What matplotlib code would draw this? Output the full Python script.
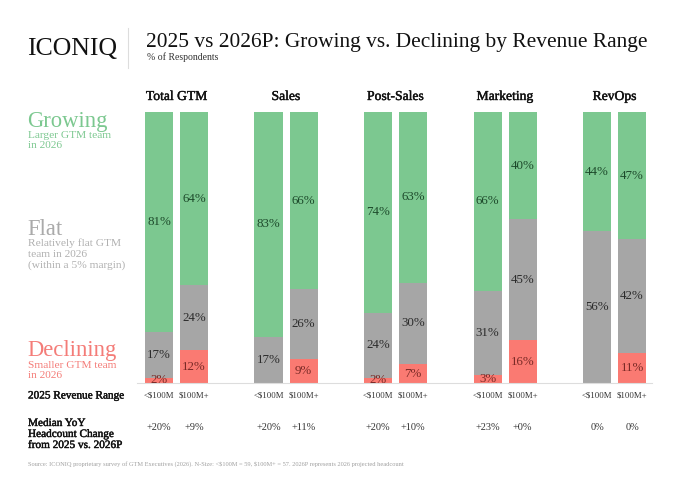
import matplotlib.pyplot as plt
from matplotlib.lines import Line2D
import matplotlib.patheffects as pe
import numpy as np

plt.rcParams['font.family'] = ['Liberation Serif', 'DejaVu Serif']

# Data, one row per function: [<$100M, $100M+]
functions = ['Total GTM', 'Sales', 'Post-Sales', 'Marketing', 'RevOps']
ranges = ['<$100M', '$100M+']
growing = np.array([[81, 64], [83, 66], [74, 63], [66, 40], [44, 47]])
flat = np.array([[17, 24], [17, 26], [24, 30], [31, 45], [56, 42]])
declining = np.array([[2, 12], [0, 9], [2, 7], [3, 16], [0, 11]])
median_change = [['+20%', '+9%'], ['+20%', '+11%'], ['+20%', '+10%'],
                 ['+23%', '+0%'], ['0%', '0%']]

green = '#7CC890'
grey = '#A6A6A6'
red = '#FA7A72'
ink = '#111111'

W, H = 680, 493
fig = plt.figure(figsize=(6.8, 4.93), dpi=100)

# fake a semibold weight: regular glyphs with a thin outline
semi = [pe.withStroke(linewidth=0.3, foreground=ink)]


def fx(px):
    return px / W


def fy(py):
    return 1 - py / H


def lines(x0, baselines, texts, **kw):
    for b, t in zip(baselines, texts):
        fig.text(fx(x0), fy(b), t, va='baseline', **kw)


# axes placed so bars land where they sit in the reference
ax_top, ax_bot = 112, 383
ax = fig.add_axes([fx(137), fy(ax_bot), fx(652) - fx(137), (ax_bot - ax_top) / H])

n = len(functions)
offsets = np.array([-0.16, 0.16])
x = (np.arange(n)[:, None] + offsets[None, :]).ravel()
tot = (growing + flat + declining).ravel()
g = growing.ravel() / tot * 100
f = flat.ravel() / tot * 100
d = declining.ravel() / tot * 100

bw = 0.256
b_red = ax.bar(x, d, bw, color=red)
b_grey = ax.bar(x, f, bw, bottom=d, color=grey)
b_green = ax.bar(x, g, bw, bottom=d + f, color=green)


def labs(vals):
    return ['' if v == 0 else f'{v}%' for v in vals]


ax.bar_label(b_red, labels=labs(declining.ravel()), label_type='center',
             fontsize=9.3, color='#7a2a26')
ax.bar_label(b_grey, labels=labs(flat.ravel()), label_type='center',
             fontsize=9.3, color='#2b2b2b')
ax.bar_label(b_green, labels=labs(growing.ravel()), label_type='center',
             fontsize=9.3, color='#1d4a2b')

ax.set_xlim(-0.361, 4.342)
ax.set_ylim(0, 100)
ax.set_yticks([])
ax.set_xticks(x, ranges * n, fontsize=6.3, color='#333333')
ax.tick_params(axis='x', length=0, pad=6)
for s in ['top', 'left', 'right']:
    ax.spines[s].set_visible(False)
ax.spines['bottom'].set_color('#dddddd')
ax.spines['bottom'].set_linewidth(0.8)

hgt = ax_bot - ax_top
# column headers
for i, name in enumerate(functions):
    ax.text(i, (ax_bot - 100) / hgt, name, transform=ax.get_xaxis_transform(),
            ha='center', va='baseline', fontsize=9.8, color=ink, path_effects=semi)

# median change row
for xi, m in zip(x, np.ravel(median_change)):
    ax.text(xi, (ax_bot - 427) / hgt, m, transform=ax.get_xaxis_transform(),
            ha='center', va='center', fontsize=7.5, color='#333333')

# header
fig.text(fx(27), fy(55), 'ICONIQ', fontsize=18.5, va='baseline', color=ink)
fig.add_artist(Line2D([fx(128), fx(128)], [fy(28), fy(68)], color='#dddddd', lw=0.8))
fig.text(fx(146), fy(47), '2025 vs 2026P: Growing vs. Declining by Revenue Range',
         fontsize=15.4, va='baseline', color=ink)
fig.text(fx(147), fy(60), '% of Respondents', fontsize=7, va='baseline', color='#333333')

# left legend
lines(27, [127], ['Growing'], fontsize=16.3, color=green)
lines(28, [137.5, 148], ['Larger GTM team', 'in 2026'], fontsize=8.2, color=green)
lines(27, [235], ['Flat'], fontsize=16.3, color='#aaaaaa')
lines(28, [246.5, 257, 267.5],
      ['Relatively flat GTM', 'team in 2026', '(within a 5% margin)'],
      fontsize=8.2, color='#b0b0b0')
lines(27, [356], ['Declining'], fontsize=16.3, color='#F47C78')
lines(28, [367.5, 378], ['Smaller GTM team', 'in 2026'], fontsize=8.2, color='#F47C78')

lines(28, [398.5], ['2025 Revenue Range'], fontsize=8.1, color=ink, path_effects=semi)
lines(28, [426, 437, 448], ['Median YoY', 'Headcount Change', 'from 2025 vs. 2026P'],
      fontsize=8.1, color=ink, path_effects=semi)

fig.text(fx(28), fy(464),
         'Source: ICONIQ proprietary survey of GTM Executives (2026). N-Size: <$100M = 59, '
         '$100M+ = 57. 2026P represents 2026 projected headcount',
         fontsize=4.6, va='center', color='#a0a0a0', parse_math=False)

fig.savefig('out.png', dpi=100, facecolor='white')
